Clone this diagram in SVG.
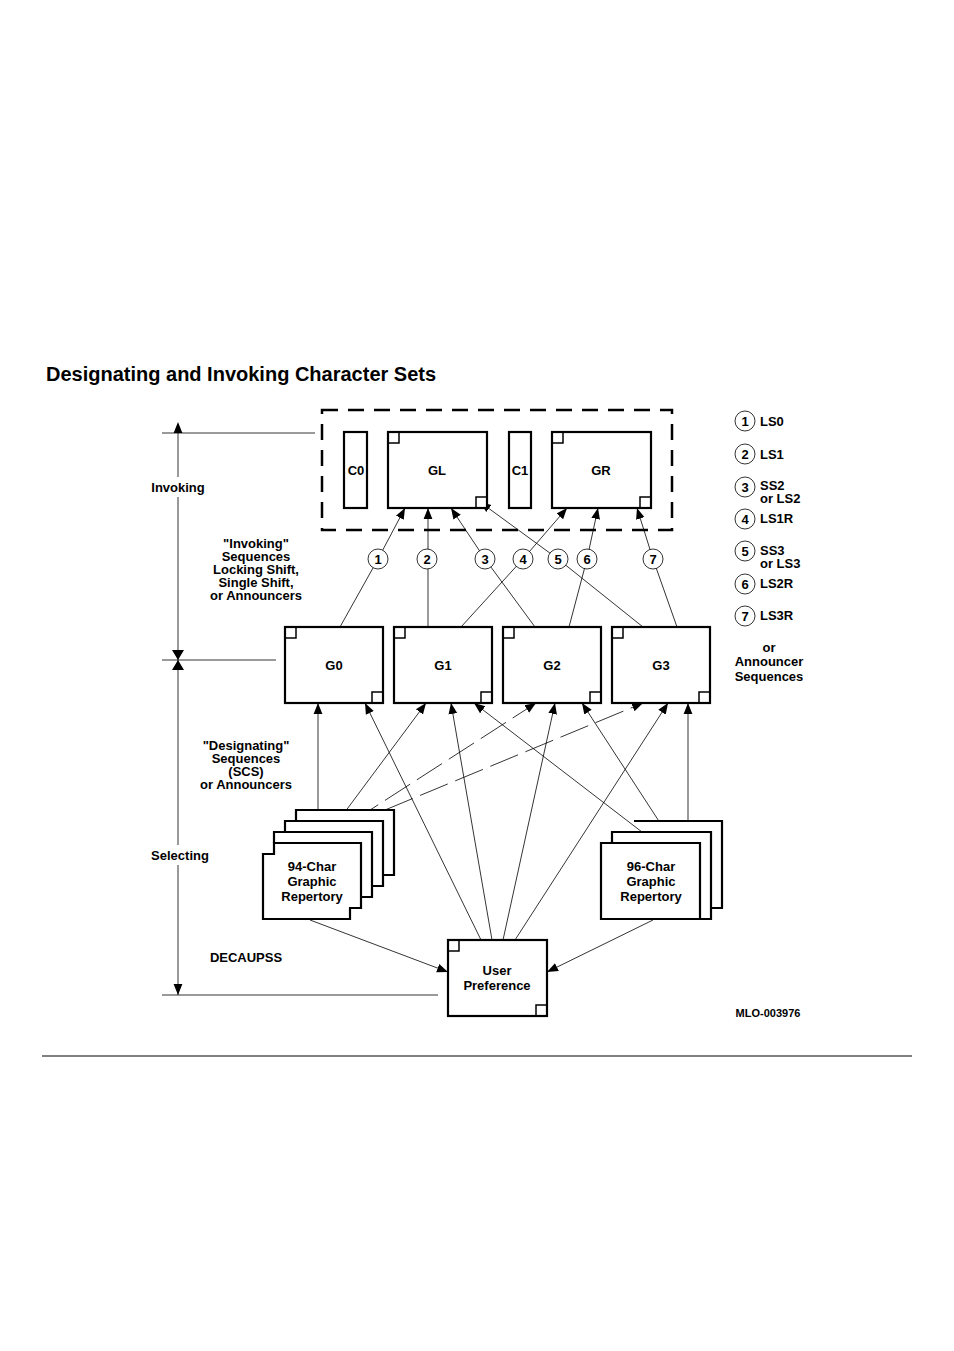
<svg xmlns="http://www.w3.org/2000/svg" width="954" height="1351" viewBox="0 0 954 1351">
<defs>
<marker id="ah" viewBox="0 0 10 10" refX="10" refY="5" markerWidth="11" markerHeight="11" markerUnits="userSpaceOnUse" orient="auto"><path d="M0,1 L10,5 L0,9 z" fill="#000"/></marker>
<marker id="ahs" viewBox="0 0 10 10" refX="0" refY="5" markerWidth="11" markerHeight="11" markerUnits="userSpaceOnUse" orient="auto-start-reverse"><path d="M0,1 L10,5 L0,9 z" fill="#000"/></marker>
</defs>
<style>
text{font-family:"Liberation Sans",Arial,sans-serif;font-size:13px;font-weight:bold;fill:#000}
.c{text-anchor:middle}
.box{fill:#fff;stroke:#000;stroke-width:2.2}
.sq{fill:none;stroke:#000;stroke-width:1.5}
.ln{fill:none;stroke:#000;stroke-width:0.8}
.ar{fill:none;stroke:#000;stroke-width:0.8;marker-end:url(#ah)}
.ci{fill:#fff;stroke:#000;stroke-width:0.8}
</style>
<rect width="954" height="1351" fill="#fff"/>
<text x="46" y="381" style="font-size:20px">Designating and Invoking Character Sets</text>
<line x1="42" y1="1056" x2="912" y2="1056" stroke="#000" stroke-width="1"/>

<g id="dimension">
<line class="ln" x1="178" y1="433" x2="178" y2="477" marker-start="url(#ahs)"/>
<line class="ln" x1="178" y1="497" x2="178" y2="845"/>
<line class="ln" x1="178" y1="865" x2="178" y2="995" marker-end="url(#ah)"/>
<path d="M172,650 L178,660 L184,650 z M172,670 L178,660 L184,670 z"/>
<line class="ln" x1="162" y1="433" x2="315" y2="433"/>
<line class="ln" x1="162" y1="660" x2="276" y2="660"/>
<line class="ln" x1="162" y1="995" x2="438" y2="995"/>
<text class="c" x="178" y="492">Invoking</text>
<text class="c" x="180" y="860">Selecting</text>
<text class="c" x="246" y="962">DECAUPSS</text>
<text class="c" x="256" y="548">"Invoking"</text>
<text class="c" x="256" y="561">Sequences</text>
<text class="c" x="256" y="574">Locking Shift,</text>
<text class="c" x="256" y="587">Single Shift,</text>
<text class="c" x="256" y="600">or Announcers</text>
<text class="c" x="246" y="750">"Designating"</text>
<text class="c" x="246" y="763">Sequences</text>
<text class="c" x="246" y="776">(SCS)</text>
<text class="c" x="246" y="789">or Announcers</text>
</g>

<g id="connectors">
<polyline class="ar" points="340,627 378,559 405,508"/>
<polyline class="ar" points="428,627 428,508"/>
<polyline class="ar" points="535,627 485,559 451,508"/>
<polyline class="ar" points="461,627 523,559 567,508"/>
<polyline class="ar" points="643,627 558,559 480,502"/>
<polyline class="ar" points="569,627 587,559 598,508"/>
<polyline class="ar" points="677,627 653,559 637,508"/>
<line class="ar" x1="318" y1="843" x2="318" y2="703"/>
<line class="ar" x1="330" y1="832" x2="426" y2="703"/>
<line class="ar" x1="353" y1="821" x2="536" y2="703" stroke-dasharray="30,8"/>
<line class="ar" x1="385" y1="810" x2="643" y2="703" stroke-dasharray="30,8"/>
<line class="ar" x1="481" y1="940" x2="365" y2="703"/>
<line class="ar" x1="492" y1="940" x2="451" y2="703"/>
<line class="ar" x1="503" y1="940" x2="555" y2="703"/>
<line class="ar" x1="515" y1="940" x2="668" y2="703"/>
<line class="ar" x1="655" y1="842" x2="474" y2="703"/>
<line class="ar" x1="666" y1="832" x2="582" y2="703"/>
<line class="ar" x1="688" y1="821" x2="688" y2="703"/>
<line class="ar" x1="310" y1="920" x2="448" y2="972"/>
<line class="ar" x1="653" y1="920" x2="547" y2="972"/>
</g>

<g id="invoke-area">
<rect x="322" y="410" width="350" height="120" fill="none" stroke="#000" stroke-width="2.5" stroke-dasharray="16,10"/>
</g>
<g id="C0"><rect class="box" x="344" y="432" width="23" height="76"/><text class="c" x="356" y="475">C0</text></g>
<g id="GL"><rect class="box" x="388" y="432" width="99" height="76"/><path class="sq" d="M388,443 H399 V432 M476,508 V497 H487"/><text class="c" x="437" y="475">GL</text></g>
<g id="C1"><rect class="box" x="509" y="432" width="22" height="76"/><text class="c" x="520" y="475">C1</text></g>
<g id="GR"><rect class="box" x="552" y="432" width="99" height="76"/><path class="sq" d="M552,443 H563 V432 M640,508 V497 H651"/><text class="c" x="601" y="475">GR</text></g>

<g id="circles">
<circle class="ci" cx="378" cy="559" r="10"/><text class="c" x="378" y="564">1</text>
<circle class="ci" cx="427" cy="559" r="10"/><text class="c" x="427" y="564">2</text>
<circle class="ci" cx="485" cy="559" r="10"/><text class="c" x="485" y="564">3</text>
<circle class="ci" cx="523" cy="559" r="10"/><text class="c" x="523" y="564">4</text>
<circle class="ci" cx="558" cy="559" r="10"/><text class="c" x="558" y="564">5</text>
<circle class="ci" cx="587" cy="559" r="10"/><text class="c" x="587" y="564">6</text>
<circle class="ci" cx="653" cy="559" r="10"/><text class="c" x="653" y="564">7</text>
</g>

<g id="G0"><rect class="box" x="285" y="627" width="98" height="76"/><path class="sq" d="M285,638 H296 V627 M372,703 V692 H383"/><text class="c" x="334" y="670">G0</text></g>
<g id="G1"><rect class="box" x="394" y="627" width="98" height="76"/><path class="sq" d="M394,638 H405 V627 M481,703 V692 H492"/><text class="c" x="443" y="670">G1</text></g>
<g id="G2"><rect class="box" x="503" y="627" width="98" height="76"/><path class="sq" d="M503,638 H514 V627 M590,703 V692 H601"/><text class="c" x="552" y="670">G2</text></g>
<g id="G3"><rect class="box" x="612" y="627" width="98" height="76"/><path class="sq" d="M612,638 H623 V627 M699,703 V692 H710"/><text class="c" x="661" y="670">G3</text></g>

<g id="rep94">
<path class="box" d="M296,821 V810 H394 V875 H383"/>
<path class="box" d="M285,832 V821 H383 V886 H372"/>
<path class="box" d="M274,843 V832 H372 V897 H361"/>
<path class="box" d="M274,843 H361 V908 H350 V919 H263 V854 H274 Z"/>
<text class="c" x="312" y="871">94-Char</text>
<text class="c" x="312" y="886">Graphic</text>
<text class="c" x="312" y="901">Repertory</text>
</g>
<g id="rep96">
<path class="box" d="M634,821 H722 V908 H711"/>
<path class="box" d="M612,843 V832 H711 V919 H700"/>
<path class="box" d="M601,843 H700 V919 H601 Z"/>
<text class="c" x="651" y="871">96-Char</text>
<text class="c" x="651" y="886">Graphic</text>
<text class="c" x="651" y="901">Repertory</text>
</g>
<g id="UserPref"><rect class="box" x="448" y="940" width="99" height="76"/><path class="sq" d="M448,951 H459 V940 M536,1016 V1005 H547"/><text class="c" x="497" y="975">User</text><text class="c" x="497" y="990">Preference</text></g>

<g id="legend">
<circle class="ci" cx="745" cy="421" r="10"/><text class="c" x="745" y="426">1</text><text x="760" y="426">LS0</text>
<circle class="ci" cx="745" cy="454" r="10"/><text class="c" x="745" y="459">2</text><text x="760" y="459">LS1</text>
<circle class="ci" cx="745" cy="487" r="10"/><text class="c" x="745" y="492">3</text><text x="760" y="490">SS2</text><text x="760" y="503">or LS2</text>
<circle class="ci" cx="745" cy="519" r="10"/><text class="c" x="745" y="524">4</text><text x="760" y="523">LS1R</text>
<circle class="ci" cx="745" cy="551" r="10"/><text class="c" x="745" y="556">5</text><text x="760" y="555">SS3</text><text x="760" y="568">or LS3</text>
<circle class="ci" cx="745" cy="584" r="10"/><text class="c" x="745" y="589">6</text><text x="760" y="588">LS2R</text>
<circle class="ci" cx="745" cy="616" r="10"/><text class="c" x="745" y="621">7</text><text x="760" y="620">LS3R</text>
<text class="c" x="769" y="652">or</text>
<text class="c" x="769" y="666">Announcer</text>
<text class="c" x="769" y="681">Sequences</text>
<text class="c" x="768" y="1017" style="font-size:11px">MLO-003976</text>
</g>
</svg>
